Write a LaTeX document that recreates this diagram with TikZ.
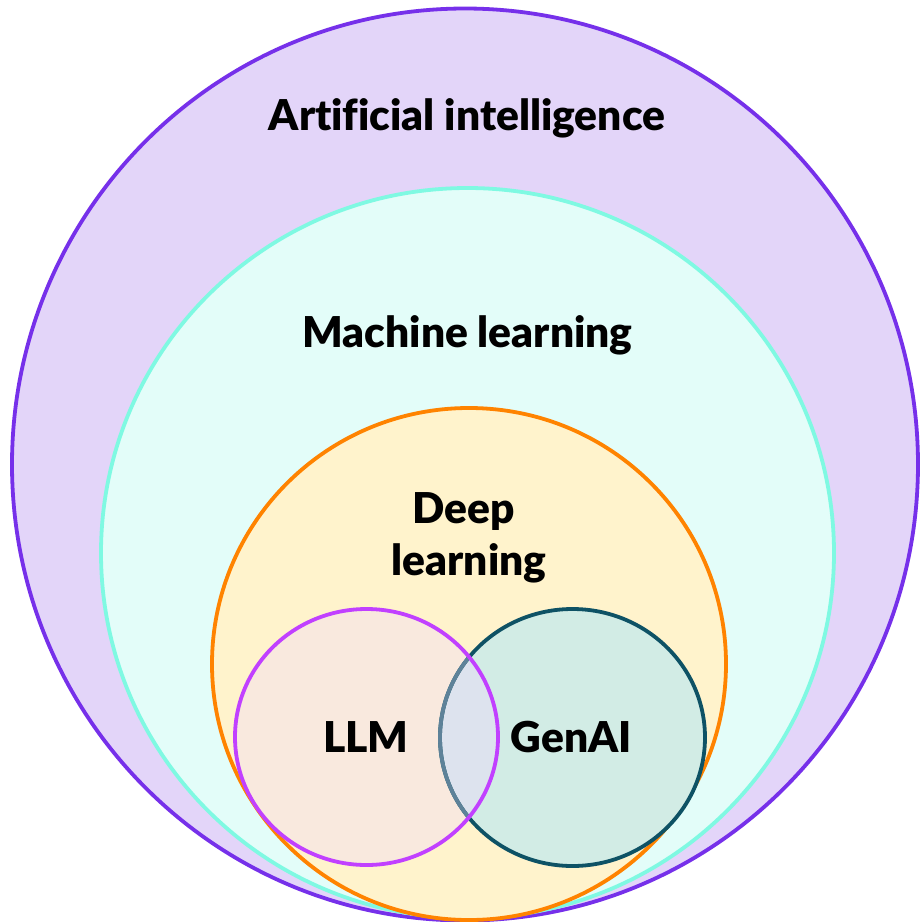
\documentclass[tikz,border=0pt]{standalone}
\usepackage{fontspec}
\setmainfont{Lato}[BoldFont={Lato Black}, Ligatures=NoCommon]
\definecolor{aiFill}{HTML}{E3D5F9}
\definecolor{aiLine}{HTML}{7630EA}
\definecolor{mlFill}{HTML}{E3FDF9}
\definecolor{mlLine}{HTML}{7FF9E2}
\definecolor{dlFill}{HTML}{FFF3CC}
\definecolor{dlLine}{HTML}{FF8300}
\definecolor{llmFill}{HTML}{F9E9DE}
\definecolor{llmLine}{HTML}{C140FF}
\definecolor{genFill}{HTML}{D2ECE5}
\definecolor{genLine}{HTML}{0E5265}
\definecolor{mixFill}{HTML}{DDE3EE}
\definecolor{mixLine}{HTML}{5E8299}
\tikzset{
  lbl/.style={font=\fontsize{42.5}{50}\selectfont\bfseries, anchor=base, inner sep=0pt, text=black},
  ring/.style={line width=3.8pt}
}
\begin{document}
\begin{tikzpicture}[x=1pt,y=-1pt]
\path[fill=white] (0,0) rectangle (920,922);
\useasboundingbox (0,0) rectangle (920,922);
% Artificial intelligence
\draw[ring, fill=aiFill, draw=aiLine] (465,464.5) ellipse [x radius=453, y radius=456];
% Machine learning
\draw[ring, fill=mlFill, draw=mlLine] (467.5,553) ellipse [x radius=366.5, y radius=365];
% Deep learning
\draw[ring, fill=dlFill, draw=dlLine] (469,664) ellipse [x radius=257, y radius=256];
% LLM and GenAI fills
\fill[llmFill] (366.5,737) ellipse [x radius=131.5, y radius=128];
\fill[genFill] (572.5,737.5) ellipse [x radius=132.5, y radius=128.5];
\begin{scope}
  \clip (366.5,737) ellipse [x radius=131.5, y radius=128];
  \fill[mixFill] (572.5,737.5) ellipse [x radius=132.5, y radius=128.5];
\end{scope}
\draw[ring, draw=genLine] (572.5,737.5) ellipse [x radius=132.5, y radius=128.5];
\begin{scope}
  \clip (366.5,737) ellipse [x radius=131.5, y radius=128];
  \draw[ring, draw=mixLine] (572.5,737.5) ellipse [x radius=132.5, y radius=128.5];
\end{scope}
\draw[ring, draw=llmLine] (366.5,737) ellipse [x radius=131.5, y radius=128];
% labels
\node[lbl] (ai) at (467,130) {Artificial intelligence};
\node[lbl] (ml) at (467.5,347) {Machine learning};
\node[lbl] (dl1) at (464,523) {Deep};
\node[lbl] (dl2) at (469,575) {learning};
\node[lbl] (llm) at (366,752) {LLM};
\node[lbl] (gen) at (571.5,752) {GenAI};
\end{tikzpicture}
\end{document}
